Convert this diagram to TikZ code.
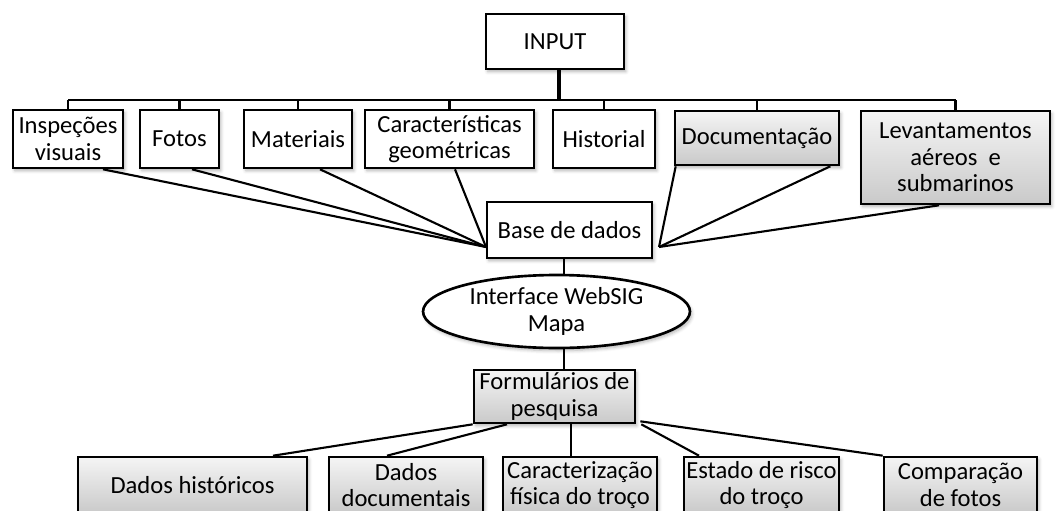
\documentclass[tikz,border=0pt]{standalone}
\usepackage{fontspec}
\setmainfont{Carlito}
\usetikzlibrary{calc,shapes.geometric,shadows.blur}
\tikzset{
  box/.style={draw,line width=1.5pt,align=center,inner sep=1pt,fill=white,
    blur shadow={shadow xshift=1pt,shadow yshift=-1.5pt,shadow blur steps=5,shadow opacity=30},
    font=\fontsize{14}{15}\selectfont},
  graybox/.style={box,top color=gray!8,bottom color=gray!42},
  link/.style={line width=1.2pt},
}
\begin{document}
\begin{tikzpicture}[x=0.02cm,y=-0.02cm]
\useasboundingbox (0,0) rectangle (1057,510);
\clip (0,0) rectangle (1057,510);
\node[box,minimum width=2.76cm,minimum height=1.1cm] (input) at (555,41.5) {INPUT};
\node[box,minimum width=2.2cm,minimum height=1.16cm] (insp) at (68,139) {Inspeções\\visuais};
\node[box,minimum width=1.58cm,minimum height=1.16cm] (fotos) at (179.5,139) {Fotos};
\node[box,minimum width=2.16cm,minimum height=1.16cm] (mat) at (298,139) {Materiais};
\node[box,minimum width=3.38cm,minimum height=1.16cm] (carac) at (449.5,139) {Características\\geométricas};
\node[box,minimum width=2.04cm,minimum height=1.16cm] (hist) at (604,139) {Historial};
\node[graybox,minimum width=3.28cm,minimum height=1.08cm] (docum) at (757,138) {Documentação};
\node[graybox,minimum width=3.78cm,minimum height=1.86cm] (levant) at (955.5,157.5) {Levantamentos\\aéreos\ \ e\\submarinos};
\node[box,minimum width=3.3cm,minimum height=1.12cm] (base) at (569.5,230) {Base de dados};
\node[box,ellipse,minimum width=5.34cm,minimum height=1.46cm,inner sep=0pt] (websig) at (556.5,311.5) {Interface WebSIG\\Mapa};
\node[graybox,minimum width=3.22cm,minimum height=1.06cm] (form) at (554.5,396.5) {Formulários de\\pesquisa};
\node[graybox,minimum width=4.58cm,minimum height=1.12cm] (dhist) at (192.5,485) {Dados históricos};
\node[graybox,minimum width=3.08cm,minimum height=1.12cm] (ddoc) at (406,485) {Dados\\documentais};
\node[graybox,minimum width=3.08cm,minimum height=1.12cm] (cfis) at (580,485) {Caracterização\\física do troço};
\node[graybox,minimum width=3.1cm,minimum height=1.12cm] (risco) at (761.5,485) {Estado de risco\\do troço};
\node[graybox,minimum width=3.06cm,minimum height=1.12cm] (compfot) at (960.5,485) {Comparação\\de fotos};
\coordinate (bar) at (0,100);
\coordinate (bl) at (486,247);
\coordinate (br) at (659,247);
\draw[line width=2pt] ($(input.south)+(4,0)$) -- ($(input.south |- bar)+(4,0)$);
\draw[link] (insp.north |- bar) -- (levant.north |- bar);
\foreach \n in {insp,fotos,mat,carac,hist,docum,levant}
  \draw[link] (\n.north) -- (\n.north |- bar);
\draw[link] ($(insp.south)+(35,0)$) -- (bl);
\draw[link] ($(fotos.south)+(12.5,0)$) -- (bl);
\draw[link] ($(mat.south)+(22,0)$) -- (bl);
\draw[link] ($(carac.south)+(5.5,0)$) -- (bl);
\draw[link] ($(docum.south west)+(2,0)$) -- (br);
\draw[link] ($(docum.south east)+(-10,0)$) -- (br);
\draw[link] ($(levant.south)+(-16.5,0)$) -- (br);
\coordinate (b1) at ($(base.south)+(-5.5,0)$);
\draw[link] (b1) -- (b1 |- websig.north);
\draw[link] (websig.south -| b1) -- (form.north -| b1);
\draw[link] (form.south west) -- ($(dhist.north)+(80.5,0)$);
\draw[link] ($(form.south)+(-47.5,0)$) -- ($(ddoc.north)+(-19,0)$);
\coordinate (f1) at ($(form.south)+(16.5,0)$);
\draw[link] (f1) -- (f1 |- cfis.north);
\draw[link] ($(form.south east)+(5,0)$) -- ($(risco.north)+(-62.5,0)$);
\draw[link] ($(form.south east)+(4,-3)$) -- (compfot.north west);
\end{tikzpicture}
\end{document}
